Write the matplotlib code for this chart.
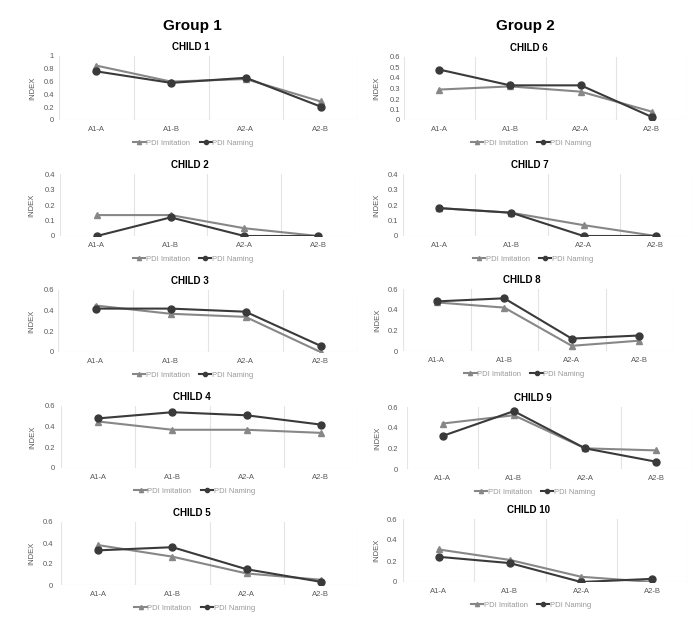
import matplotlib
matplotlib.use("Agg")
import matplotlib.pyplot as plt
from matplotlib.lines import Line2D

plt.rcParams['font.family'] = ['Liberation Sans', 'DejaVu Sans']

# categories
sessions = ['A1-A', 'A1-B', 'A2-A', 'A2-B']

# PDI Imitation / PDI Naming per child
imit_1 = [0.85, 0.60, 0.64, 0.29]
name_1 = [0.76, 0.58, 0.66, 0.21]
imit_2 = [0.135, 0.135, 0.05, 0.0]
name_2 = [0.0, 0.12, 0.0, 0.0]
imit_3 = [0.45, 0.37, 0.34, 0.0]
name_3 = [0.42, 0.42, 0.39, 0.06]
imit_4 = [0.45, 0.37, 0.37, 0.34]
name_4 = [0.48, 0.54, 0.51, 0.42]
imit_5 = [0.38, 0.27, 0.11, 0.05]
name_5 = [0.33, 0.36, 0.15, 0.03]
imit_6 = [0.29, 0.32, 0.27, 0.08]
name_6 = [0.48, 0.33, 0.33, 0.03]
imit_7 = [0.18, 0.15, 0.07, 0.0]
name_7 = [0.18, 0.15, 0.0, 0.0]
imit_8 = [0.47, 0.42, 0.05, 0.10]
name_8 = [0.48, 0.51, 0.12, 0.15]
imit_9 = [0.44, 0.52, 0.20, 0.18]
name_9 = [0.32, 0.56, 0.20, 0.07]
imit_10 = [0.31, 0.21, 0.05, 0.0]
name_10 = [0.24, 0.18, 0.0, 0.03]

# y-axis (max, step) per child
yaxis = {1: (1.0, 0.2), 2: (0.4, 0.1), 3: (0.6, 0.2), 4: (0.6, 0.2), 5: (0.6, 0.2),
         6: (0.6, 0.1), 7: (0.4, 0.1), 8: (0.6, 0.2), 9: (0.6, 0.2), 10: (0.6, 0.2)}

imit = {1: imit_1, 2: imit_2, 3: imit_3, 4: imit_4, 5: imit_5,
        6: imit_6, 7: imit_7, 8: imit_8, 9: imit_9, 10: imit_10}
name = {1: name_1, 2: name_2, 3: name_3, 4: name_4, 5: name_5,
        6: name_6, 7: name_7, 8: name_8, 9: name_9, 10: name_10}

# plot area in pixels: x0, x1, ytop, ybottom, tick gap, INDEX x
boxes = {1: (59, 358, 56, 120, 5, 33), 2: (60, 355, 174, 236, 5, 32),
         3: (58, 358, 290, 352, 4, 32), 4: (61, 358, 406, 468, 6, 33),
         5: (61, 358, 522, 585, 8, 32),
         6: (404, 687, 57, 120, 4, 377), 7: (403, 692, 174, 236, 5, 377),
         8: (403, 673, 289, 351, 5, 378), 9: (407, 692, 407, 469, 9, 378),
         10: (403, 688, 519, 582, 6, 377)}

W, H = 693, 634
fig = plt.figure(figsize=(W / 100, H / 100), dpi=100)

c_imit = '#878787'
c_name = '#3a3a3a'
c_grid = '#e4e4e4'
c_text = '#595959'

fig.text(192 / W, 1 - 26 / H, 'Group 1', fontsize=11, fontweight='bold', ha='center', va='center')
fig.text(525 / W, 1 - 26 / H, 'Group 2', fontsize=11, fontweight='bold', ha='center', va='center')

for k in range(1, 11):
    x0, x1, yt, yb, gap, idx_x = boxes[k]
    ax = fig.add_axes([x0 / W, 1 - yb / H, (x1 - x0) / W, (yb - yt) / H])
    ymax, step = yaxis[k]
    x = list(range(len(sessions)))
    ax.plot(x, imit[k], color=c_imit, lw=1.5, marker='^', ms=5, label='PDI Imitation', zorder=3)
    ax.plot(x, name[k], color=c_name, lw=1.5, marker='o', ms=5, label='PDI Naming', zorder=4)
    ax.set_xlim(-0.5, 3.5)
    ax.set_ylim(0, ymax)
    for s in ax.spines.values():
        s.set_visible(False)
    for b in [-0.5, 0.5, 1.5, 2.5, 3.5]:
        ax.axvline(b, color=c_grid, lw=0.8, zorder=1)
    ax.axhline(0, color=c_grid, lw=0.8, zorder=1)
    n = int(round(ymax / step))
    ticks = [round(i * step, 2) for i in range(n + 1)]
    ax.set_yticks(ticks)
    ax.set_yticklabels([f'{t:g}' for t in ticks])
    ax.set_xticks(x)
    ax.set_xticklabels(sessions)
    ax.tick_params(axis='x', length=0, labelsize=5.5, colors=c_text, pad=4)
    ax.tick_params(axis='y', length=0, labelsize=5.5, colors=c_text, pad=gap * 0.72)
    ax.set_ylabel('INDEX', fontsize=5.5, color=c_text, va='center')
    ax.yaxis.set_label_coords((idx_x - x0) / (x1 - x0), 0.5)
    ax.patch.set_alpha(0)
    ax.set_title(f'CHILD {k}', fontsize=7, fontweight='bold', pad=4, x=0.44)
    handles = [Line2D([0], [0], color=c_imit, lw=1.5, marker='^', ms=3),
               Line2D([0], [0], color=c_name, lw=1.5, marker='o', ms=3)]
    leg = ax.legend(handles, ['PDI Imitation', 'PDI Naming'], loc='upper center',
                    bbox_to_anchor=(0.45, -0.2), ncol=2, frameon=False, fontsize=5.5,
                    handlelength=1.6, handletextpad=0.1, columnspacing=1.2)
    for t in leg.get_texts():
        t.set_color('#999999')

fig.savefig('out.png', dpi=100)
